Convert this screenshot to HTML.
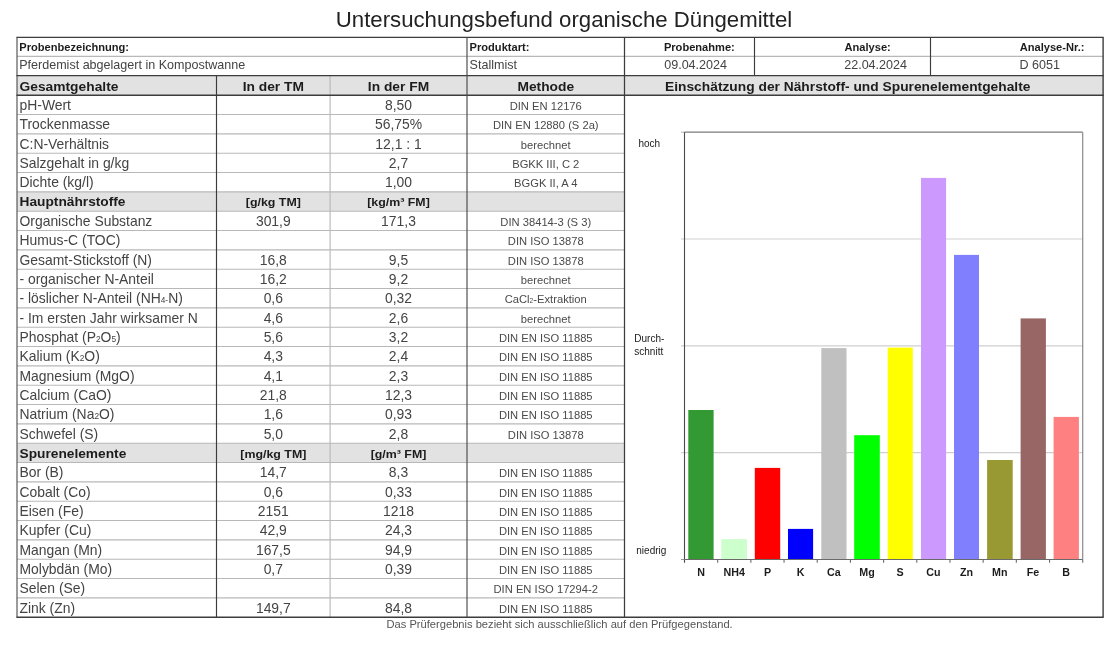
<!DOCTYPE html>
<html><head><meta charset="utf-8"><title>Untersuchungsbefund organische Düngemittel</title>
<style>
html,body{margin:0;padding:0;background:#fff;}
body{width:1117px;height:647px;position:relative;overflow:hidden;font-family:"Liberation Sans",sans-serif;color:#333;}
div{position:absolute;white-space:nowrap;box-sizing:border-box;}
svg{position:absolute;left:0;top:0;font-family:"Liberation Sans",sans-serif;}
text{white-space:pre;}
.t{color:#333;}
.b{font-weight:bold;color:#1c1c1c;}
.c{text-align:center;}
.m{color:#3a3a3a;}
s{text-decoration:none;font-size:68%;}
</style></head><body>
<div id="w" style="left:0;top:0;width:1117px;height:647px;will-change:transform;filter:blur(0.3px)">
<svg width="1117" height="647" viewBox="0 0 1117 647">

<rect x="17.00" y="75.65" width="1086.10" height="19.55" fill="#e2e2e2"/>
<rect x="17.00" y="191.87" width="607.50" height="19.33" fill="#e2e2e2"/>
<rect x="17.00" y="443.20" width="607.50" height="19.33" fill="#e2e2e2"/>
<line x1="17.00" y1="56.30" x2="1103.10" y2="56.30" stroke="#b8b8b8" stroke-width="1.15"/>
<line x1="17.00" y1="114.53" x2="624.50" y2="114.53" stroke="#b8b8b8" stroke-width="1.15"/>
<line x1="17.00" y1="133.87" x2="624.50" y2="133.87" stroke="#b8b8b8" stroke-width="1.15"/>
<line x1="17.00" y1="153.20" x2="624.50" y2="153.20" stroke="#b8b8b8" stroke-width="1.15"/>
<line x1="17.00" y1="172.53" x2="624.50" y2="172.53" stroke="#b8b8b8" stroke-width="1.15"/>
<line x1="17.00" y1="191.87" x2="624.50" y2="191.87" stroke="#b8b8b8" stroke-width="1.15"/>
<line x1="17.00" y1="211.20" x2="624.50" y2="211.20" stroke="#b8b8b8" stroke-width="1.15"/>
<line x1="17.00" y1="230.53" x2="624.50" y2="230.53" stroke="#b8b8b8" stroke-width="1.15"/>
<line x1="17.00" y1="249.87" x2="624.50" y2="249.87" stroke="#b8b8b8" stroke-width="1.15"/>
<line x1="17.00" y1="269.20" x2="624.50" y2="269.20" stroke="#b8b8b8" stroke-width="1.15"/>
<line x1="17.00" y1="288.53" x2="624.50" y2="288.53" stroke="#b8b8b8" stroke-width="1.15"/>
<line x1="17.00" y1="307.87" x2="624.50" y2="307.87" stroke="#b8b8b8" stroke-width="1.15"/>
<line x1="17.00" y1="327.20" x2="624.50" y2="327.20" stroke="#b8b8b8" stroke-width="1.15"/>
<line x1="17.00" y1="346.53" x2="624.50" y2="346.53" stroke="#b8b8b8" stroke-width="1.15"/>
<line x1="17.00" y1="365.87" x2="624.50" y2="365.87" stroke="#b8b8b8" stroke-width="1.15"/>
<line x1="17.00" y1="385.20" x2="624.50" y2="385.20" stroke="#b8b8b8" stroke-width="1.15"/>
<line x1="17.00" y1="404.53" x2="624.50" y2="404.53" stroke="#b8b8b8" stroke-width="1.15"/>
<line x1="17.00" y1="423.87" x2="624.50" y2="423.87" stroke="#b8b8b8" stroke-width="1.15"/>
<line x1="17.00" y1="443.20" x2="624.50" y2="443.20" stroke="#b8b8b8" stroke-width="1.15"/>
<line x1="17.00" y1="462.53" x2="624.50" y2="462.53" stroke="#b8b8b8" stroke-width="1.15"/>
<line x1="17.00" y1="481.87" x2="624.50" y2="481.87" stroke="#b8b8b8" stroke-width="1.15"/>
<line x1="17.00" y1="501.20" x2="624.50" y2="501.20" stroke="#b8b8b8" stroke-width="1.15"/>
<line x1="17.00" y1="520.53" x2="624.50" y2="520.53" stroke="#b8b8b8" stroke-width="1.15"/>
<line x1="17.00" y1="539.87" x2="624.50" y2="539.87" stroke="#b8b8b8" stroke-width="1.15"/>
<line x1="17.00" y1="559.20" x2="624.50" y2="559.20" stroke="#b8b8b8" stroke-width="1.15"/>
<line x1="17.00" y1="578.53" x2="624.50" y2="578.53" stroke="#b8b8b8" stroke-width="1.15"/>
<line x1="17.00" y1="597.87" x2="624.50" y2="597.87" stroke="#b8b8b8" stroke-width="1.15"/>
<line x1="330.10" y1="75.65" x2="330.10" y2="617.20" stroke="#b8b8b8" stroke-width="1.15"/>
<line x1="681.00" y1="238.99" x2="1082.70" y2="238.99" stroke="#cfcfcf" stroke-width="1.1"/>
<line x1="681.00" y1="345.83" x2="1082.70" y2="345.83" stroke="#cfcfcf" stroke-width="1.1"/>
<line x1="681.00" y1="452.66" x2="1082.70" y2="452.66" stroke="#cfcfcf" stroke-width="1.1"/>
<rect x="688.30" y="410.00" width="25.30" height="149.50" fill="#339933"/>
<rect x="721.30" y="539.10" width="25.70" height="20.40" fill="#ccffcc"/>
<rect x="754.80" y="467.90" width="25.40" height="91.60" fill="#ff0000"/>
<rect x="788.00" y="528.90" width="25.10" height="30.60" fill="#0000ff"/>
<rect x="821.30" y="348.10" width="25.20" height="211.40" fill="#c0c0c0"/>
<rect x="854.20" y="435.20" width="25.60" height="124.30" fill="#00ff00"/>
<rect x="887.70" y="347.60" width="25.10" height="211.90" fill="#ffff00"/>
<rect x="921.00" y="177.90" width="25.10" height="381.60" fill="#cc99ff"/>
<rect x="954.00" y="254.90" width="25.00" height="304.60" fill="#8080ff"/>
<rect x="987.10" y="460.00" width="25.60" height="99.50" fill="#999933"/>
<rect x="1020.60" y="318.40" width="25.30" height="241.10" fill="#996666"/>
<rect x="1053.60" y="416.90" width="25.30" height="142.60" fill="#ff8080"/>
<line x1="681.00" y1="132.15" x2="684.50" y2="132.15" stroke="#b0b0b0" stroke-width="1.0"/>
<line x1="684.50" y1="132.15" x2="1082.70" y2="132.15" stroke="#7a7a7a" stroke-width="1.1"/>
<line x1="1082.70" y1="132.15" x2="1082.70" y2="559.50" stroke="#8a8a8a" stroke-width="1.2"/>
<line x1="684.50" y1="132.15" x2="684.50" y2="562.70" stroke="#4a4a4a" stroke-width="1.1"/>
<line x1="681.00" y1="559.50" x2="684.50" y2="559.50" stroke="#999" stroke-width="1.0"/>
<line x1="684.50" y1="559.50" x2="1082.70" y2="559.50" stroke="#6a6a6a" stroke-width="1.05"/>
<line x1="717.68" y1="559.50" x2="717.68" y2="562.70" stroke="#6a6a6a" stroke-width="1.1"/>
<line x1="750.87" y1="559.50" x2="750.87" y2="562.70" stroke="#6a6a6a" stroke-width="1.1"/>
<line x1="784.05" y1="559.50" x2="784.05" y2="562.70" stroke="#6a6a6a" stroke-width="1.1"/>
<line x1="817.23" y1="559.50" x2="817.23" y2="562.70" stroke="#6a6a6a" stroke-width="1.1"/>
<line x1="850.42" y1="559.50" x2="850.42" y2="562.70" stroke="#6a6a6a" stroke-width="1.1"/>
<line x1="883.60" y1="559.50" x2="883.60" y2="562.70" stroke="#6a6a6a" stroke-width="1.1"/>
<line x1="916.78" y1="559.50" x2="916.78" y2="562.70" stroke="#6a6a6a" stroke-width="1.1"/>
<line x1="949.97" y1="559.50" x2="949.97" y2="562.70" stroke="#6a6a6a" stroke-width="1.1"/>
<line x1="983.15" y1="559.50" x2="983.15" y2="562.70" stroke="#6a6a6a" stroke-width="1.1"/>
<line x1="1016.33" y1="559.50" x2="1016.33" y2="562.70" stroke="#6a6a6a" stroke-width="1.1"/>
<line x1="1049.52" y1="559.50" x2="1049.52" y2="562.70" stroke="#6a6a6a" stroke-width="1.1"/>
<line x1="1082.70" y1="559.50" x2="1082.70" y2="562.70" stroke="#6a6a6a" stroke-width="1.1"/>
<line x1="16.40" y1="37.40" x2="1103.70" y2="37.40" stroke="#3c3c3c" stroke-width="1.35"/>
<line x1="16.40" y1="75.65" x2="1103.70" y2="75.65" stroke="#3c3c3c" stroke-width="1.35"/>
<line x1="16.40" y1="95.20" x2="1103.70" y2="95.20" stroke="#3c3c3c" stroke-width="1.35"/>
<line x1="16.40" y1="617.20" x2="1103.70" y2="617.20" stroke="#3c3c3c" stroke-width="1.35"/>
<line x1="17.00" y1="37.40" x2="17.00" y2="617.20" stroke="#4a4a4a" stroke-width="1.1"/>
<line x1="1103.10" y1="37.40" x2="1103.10" y2="617.20" stroke="#3c3c3c" stroke-width="1.4"/>
<line x1="216.50" y1="75.65" x2="216.50" y2="617.20" stroke="#3c3c3c" stroke-width="1.15"/>
<line x1="467.00" y1="37.40" x2="467.00" y2="617.20" stroke="#4a4a4a" stroke-width="1.15"/>
<line x1="624.50" y1="37.40" x2="624.50" y2="617.20" stroke="#3c3c3c" stroke-width="1.25"/>
<line x1="754.50" y1="37.40" x2="754.50" y2="75.65" stroke="#3c3c3c" stroke-width="1.15"/>
<line x1="930.50" y1="37.40" x2="930.50" y2="75.65" stroke="#3c3c3c" stroke-width="1.15"/>
<text x="564.00" y="27.00" font-size="22.2" text-anchor="middle" fill="#222">Untersuchungsbefund organische Düngemittel</text>
<text x="19.30" y="51.00" font-size="11.1" font-weight="bold" fill="#1c1c1c">Probenbezeichnung:</text>
<text x="19.20" y="69.00" font-size="12.55" fill="#444">Pferdemist abgelagert in Kompostwanne</text>
<text x="469.60" y="51.00" font-size="11.1" font-weight="bold" fill="#1c1c1c">Produktart:</text>
<text x="469.60" y="69.00" font-size="12.55" fill="#444">Stallmist</text>
<text x="663.90" y="51.00" font-size="11.1" font-weight="bold" fill="#1c1c1c">Probenahme:</text>
<text x="664.20" y="69.00" font-size="12.55" fill="#444">09.04.2024</text>
<text x="844.50" y="51.00" font-size="11.1" font-weight="bold" fill="#1c1c1c">Analyse:</text>
<text x="844.20" y="69.00" font-size="12.55" fill="#444">22.04.2024</text>
<text x="1019.70" y="51.00" font-size="11.1" font-weight="bold" fill="#1c1c1c">Analyse-Nr.:</text>
<text x="1019.50" y="69.00" font-size="12.55" fill="#444">D 6051</text>
<text transform="translate(19.50,91.00) scale(1.066,1)" font-size="12.95" font-weight="bold" fill="#1c1c1c">Gesamtgehalte</text>
<text transform="translate(273.30,91.00) scale(1.066,1)" font-size="12.95" font-weight="bold" text-anchor="middle" fill="#1c1c1c">In der TM</text>
<text transform="translate(398.50,91.00) scale(1.066,1)" font-size="12.95" font-weight="bold" text-anchor="middle" fill="#1c1c1c">In der FM</text>
<text transform="translate(545.75,91.00) scale(1.066,1)" font-size="12.95" font-weight="bold" text-anchor="middle" fill="#1c1c1c">Methode</text>
<text transform="translate(665.00,91.00) scale(1.095,1)" font-size="12.6" font-weight="bold" fill="#1c1c1c">Einschätzung der Nährstoff- und Spurenelementgehalte</text>
<text x="19.50" y="110.00" font-size="13.9" fill="#444">pH-Wert</text>
<text x="273.30" y="110.00" font-size="13.9" text-anchor="middle" fill="#444"></text>
<text x="398.50" y="110.00" font-size="13.9" text-anchor="middle" fill="#444">8,50</text>
<text x="545.75" y="110.00" font-size="11.2" text-anchor="middle" fill="#4a4a4a">DIN EN 12176</text>
<text x="19.50" y="129.00" font-size="13.9" fill="#444">Trockenmasse</text>
<text x="273.30" y="129.00" font-size="13.9" text-anchor="middle" fill="#444"></text>
<text x="398.50" y="129.00" font-size="13.9" text-anchor="middle" fill="#444">56,75%</text>
<text x="545.75" y="129.00" font-size="11.2" text-anchor="middle" fill="#4a4a4a">DIN EN 12880 (S 2a)</text>
<text x="19.50" y="149.00" font-size="13.9" fill="#444">C:N-Verhältnis</text>
<text x="273.30" y="149.00" font-size="13.9" text-anchor="middle" fill="#444"></text>
<text x="398.50" y="149.00" font-size="13.9" text-anchor="middle" fill="#444">12,1 : 1</text>
<text x="545.75" y="149.00" font-size="11.2" text-anchor="middle" fill="#4a4a4a">berechnet</text>
<text x="19.50" y="168.00" font-size="13.9" fill="#444">Salzgehalt in g/kg</text>
<text x="273.30" y="168.00" font-size="13.9" text-anchor="middle" fill="#444"></text>
<text x="398.50" y="168.00" font-size="13.9" text-anchor="middle" fill="#444">2,7</text>
<text x="545.75" y="168.00" font-size="11.2" text-anchor="middle" fill="#4a4a4a">BGKK III, C 2</text>
<text x="19.50" y="187.00" font-size="13.9" fill="#444">Dichte (kg/l)</text>
<text x="273.30" y="187.00" font-size="13.9" text-anchor="middle" fill="#444"></text>
<text x="398.50" y="187.00" font-size="13.9" text-anchor="middle" fill="#444">1,00</text>
<text x="545.75" y="187.00" font-size="11.2" text-anchor="middle" fill="#4a4a4a">BGGK II, A 4</text>
<text transform="translate(19.50,206.00) scale(1.113,1)" font-size="12.35" font-weight="bold" fill="#1c1c1c">Hauptnährstoffe</text>
<text transform="translate(273.30,206.00) scale(1.06,1)" font-size="11.7" font-weight="bold" text-anchor="middle" fill="#1c1c1c">[g/kg TM]</text>
<text transform="translate(398.50,206.00) scale(1.06,1)" font-size="11.7" font-weight="bold" text-anchor="middle" fill="#1c1c1c">[kg/m³ FM]</text>
<text x="19.50" y="226.00" font-size="13.9" fill="#444">Organische Substanz</text>
<text x="273.30" y="226.00" font-size="13.9" text-anchor="middle" fill="#444">301,9</text>
<text x="398.50" y="226.00" font-size="13.9" text-anchor="middle" fill="#444">171,3</text>
<text x="545.75" y="226.00" font-size="11.2" text-anchor="middle" fill="#4a4a4a">DIN 38414-3 (S 3)</text>
<text x="19.50" y="245.00" font-size="13.9" fill="#444">Humus-C (TOC)</text>
<text x="273.30" y="245.00" font-size="13.9" text-anchor="middle" fill="#444"></text>
<text x="398.50" y="245.00" font-size="13.9" text-anchor="middle" fill="#444"></text>
<text x="545.75" y="245.00" font-size="11.2" text-anchor="middle" fill="#4a4a4a">DIN ISO 13878</text>
<text x="19.50" y="265.00" font-size="13.9" fill="#444">Gesamt-Stickstoff (N)</text>
<text x="273.30" y="265.00" font-size="13.9" text-anchor="middle" fill="#444">16,8</text>
<text x="398.50" y="265.00" font-size="13.9" text-anchor="middle" fill="#444">9,5</text>
<text x="545.75" y="265.00" font-size="11.2" text-anchor="middle" fill="#4a4a4a">DIN ISO 13878</text>
<text x="19.50" y="284.00" font-size="13.9" fill="#444">- organischer N-Anteil</text>
<text x="273.30" y="284.00" font-size="13.9" text-anchor="middle" fill="#444">16,2</text>
<text x="398.50" y="284.00" font-size="13.9" text-anchor="middle" fill="#444">9,2</text>
<text x="545.75" y="284.00" font-size="11.2" text-anchor="middle" fill="#4a4a4a">berechnet</text>
<text x="19.50" y="303.00" font-size="13.9" fill="#444">- löslicher N-Anteil (NH<tspan font-size="8.3">4-</tspan>N)</text>
<text x="273.30" y="303.00" font-size="13.9" text-anchor="middle" fill="#444">0,6</text>
<text x="398.50" y="303.00" font-size="13.9" text-anchor="middle" fill="#444">0,32</text>
<text x="545.75" y="303.00" font-size="11.2" text-anchor="middle" fill="#4a4a4a">CaCl<tspan font-size="6.7">2</tspan>-Extraktion</text>
<text x="19.50" y="323.00" font-size="13.9" fill="#444">- Im ersten Jahr wirksamer N</text>
<text x="273.30" y="323.00" font-size="13.9" text-anchor="middle" fill="#444">4,6</text>
<text x="398.50" y="323.00" font-size="13.9" text-anchor="middle" fill="#444">2,6</text>
<text x="545.75" y="323.00" font-size="11.2" text-anchor="middle" fill="#4a4a4a">berechnet</text>
<text x="19.50" y="342.00" font-size="13.9" fill="#444">Phosphat (P<tspan font-size="8.3">2</tspan>O<tspan font-size="8.3">5</tspan>)</text>
<text x="273.30" y="342.00" font-size="13.9" text-anchor="middle" fill="#444">5,6</text>
<text x="398.50" y="342.00" font-size="13.9" text-anchor="middle" fill="#444">3,2</text>
<text x="545.75" y="342.00" font-size="11.2" text-anchor="middle" fill="#4a4a4a">DIN EN ISO 11885</text>
<text x="19.50" y="361.00" font-size="13.9" fill="#444">Kalium (K<tspan font-size="8.3">2</tspan>O)</text>
<text x="273.30" y="361.00" font-size="13.9" text-anchor="middle" fill="#444">4,3</text>
<text x="398.50" y="361.00" font-size="13.9" text-anchor="middle" fill="#444">2,4</text>
<text x="545.75" y="361.00" font-size="11.2" text-anchor="middle" fill="#4a4a4a">DIN EN ISO 11885</text>
<text x="19.50" y="381.00" font-size="13.9" fill="#444">Magnesium (MgO)</text>
<text x="273.30" y="381.00" font-size="13.9" text-anchor="middle" fill="#444">4,1</text>
<text x="398.50" y="381.00" font-size="13.9" text-anchor="middle" fill="#444">2,3</text>
<text x="545.75" y="381.00" font-size="11.2" text-anchor="middle" fill="#4a4a4a">DIN EN ISO 11885</text>
<text x="19.50" y="400.00" font-size="13.9" fill="#444">Calcium (CaO)</text>
<text x="273.30" y="400.00" font-size="13.9" text-anchor="middle" fill="#444">21,8</text>
<text x="398.50" y="400.00" font-size="13.9" text-anchor="middle" fill="#444">12,3</text>
<text x="545.75" y="400.00" font-size="11.2" text-anchor="middle" fill="#4a4a4a">DIN EN ISO 11885</text>
<text x="19.50" y="419.00" font-size="13.9" fill="#444">Natrium (Na<tspan font-size="8.3">2</tspan>O)</text>
<text x="273.30" y="419.00" font-size="13.9" text-anchor="middle" fill="#444">1,6</text>
<text x="398.50" y="419.00" font-size="13.9" text-anchor="middle" fill="#444">0,93</text>
<text x="545.75" y="419.00" font-size="11.2" text-anchor="middle" fill="#4a4a4a">DIN EN ISO 11885</text>
<text x="19.50" y="439.00" font-size="13.9" fill="#444">Schwefel (S)</text>
<text x="273.30" y="439.00" font-size="13.9" text-anchor="middle" fill="#444">5,0</text>
<text x="398.50" y="439.00" font-size="13.9" text-anchor="middle" fill="#444">2,8</text>
<text x="545.75" y="439.00" font-size="11.2" text-anchor="middle" fill="#4a4a4a">DIN ISO 13878</text>
<text transform="translate(19.50,458.00) scale(1.113,1)" font-size="12.35" font-weight="bold" fill="#1c1c1c">Spurenelemente</text>
<text transform="translate(273.30,458.00) scale(1.06,1)" font-size="11.7" font-weight="bold" text-anchor="middle" fill="#1c1c1c">[mg/kg TM]</text>
<text transform="translate(398.50,458.00) scale(1.06,1)" font-size="11.7" font-weight="bold" text-anchor="middle" fill="#1c1c1c">[g/m³ FM]</text>
<text x="19.50" y="477.00" font-size="13.9" fill="#444">Bor (B)</text>
<text x="273.30" y="477.00" font-size="13.9" text-anchor="middle" fill="#444">14,7</text>
<text x="398.50" y="477.00" font-size="13.9" text-anchor="middle" fill="#444">8,3</text>
<text x="545.75" y="477.00" font-size="11.2" text-anchor="middle" fill="#4a4a4a">DIN EN ISO 11885</text>
<text x="19.50" y="497.00" font-size="13.9" fill="#444">Cobalt (Co)</text>
<text x="273.30" y="497.00" font-size="13.9" text-anchor="middle" fill="#444">0,6</text>
<text x="398.50" y="497.00" font-size="13.9" text-anchor="middle" fill="#444">0,33</text>
<text x="545.75" y="497.00" font-size="11.2" text-anchor="middle" fill="#4a4a4a">DIN EN ISO 11885</text>
<text x="19.50" y="516.00" font-size="13.9" fill="#444">Eisen (Fe)</text>
<text x="273.30" y="516.00" font-size="13.9" text-anchor="middle" fill="#444">2151</text>
<text x="398.50" y="516.00" font-size="13.9" text-anchor="middle" fill="#444">1218</text>
<text x="545.75" y="516.00" font-size="11.2" text-anchor="middle" fill="#4a4a4a">DIN EN ISO 11885</text>
<text x="19.50" y="535.00" font-size="13.9" fill="#444">Kupfer (Cu)</text>
<text x="273.30" y="535.00" font-size="13.9" text-anchor="middle" fill="#444">42,9</text>
<text x="398.50" y="535.00" font-size="13.9" text-anchor="middle" fill="#444">24,3</text>
<text x="545.75" y="535.00" font-size="11.2" text-anchor="middle" fill="#4a4a4a">DIN EN ISO 11885</text>
<text x="19.50" y="555.00" font-size="13.9" fill="#444">Mangan (Mn)</text>
<text x="273.30" y="555.00" font-size="13.9" text-anchor="middle" fill="#444">167,5</text>
<text x="398.50" y="555.00" font-size="13.9" text-anchor="middle" fill="#444">94,9</text>
<text x="545.75" y="555.00" font-size="11.2" text-anchor="middle" fill="#4a4a4a">DIN EN ISO 11885</text>
<text x="19.50" y="574.00" font-size="13.9" fill="#444">Molybdän (Mo)</text>
<text x="273.30" y="574.00" font-size="13.9" text-anchor="middle" fill="#444">0,7</text>
<text x="398.50" y="574.00" font-size="13.9" text-anchor="middle" fill="#444">0,39</text>
<text x="545.75" y="574.00" font-size="11.2" text-anchor="middle" fill="#4a4a4a">DIN EN ISO 11885</text>
<text x="19.50" y="593.00" font-size="13.9" fill="#444">Selen (Se)</text>
<text x="273.30" y="593.00" font-size="13.9" text-anchor="middle" fill="#444"></text>
<text x="398.50" y="593.00" font-size="13.9" text-anchor="middle" fill="#444"></text>
<text x="545.75" y="593.00" font-size="11.2" text-anchor="middle" fill="#4a4a4a">DIN EN ISO 17294-2</text>
<text x="19.50" y="613.00" font-size="13.9" fill="#444">Zink (Zn)</text>
<text x="273.30" y="613.00" font-size="13.9" text-anchor="middle" fill="#444">149,7</text>
<text x="398.50" y="613.00" font-size="13.9" text-anchor="middle" fill="#444">84,8</text>
<text x="545.75" y="613.00" font-size="11.2" text-anchor="middle" fill="#4a4a4a">DIN EN ISO 11885</text>
<text x="701.09" y="576.00" font-size="10.7" font-weight="bold" text-anchor="middle" fill="#1c1c1c">N</text>
<text x="734.27" y="576.00" font-size="10.7" font-weight="bold" text-anchor="middle" fill="#1c1c1c">NH4</text>
<text x="767.46" y="576.00" font-size="10.7" font-weight="bold" text-anchor="middle" fill="#1c1c1c">P</text>
<text x="800.64" y="576.00" font-size="10.7" font-weight="bold" text-anchor="middle" fill="#1c1c1c">K</text>
<text x="833.83" y="576.00" font-size="10.7" font-weight="bold" text-anchor="middle" fill="#1c1c1c">Ca</text>
<text x="867.01" y="576.00" font-size="10.7" font-weight="bold" text-anchor="middle" fill="#1c1c1c">Mg</text>
<text x="900.19" y="576.00" font-size="10.7" font-weight="bold" text-anchor="middle" fill="#1c1c1c">S</text>
<text x="933.38" y="576.00" font-size="10.7" font-weight="bold" text-anchor="middle" fill="#1c1c1c">Cu</text>
<text x="966.56" y="576.00" font-size="10.7" font-weight="bold" text-anchor="middle" fill="#1c1c1c">Zn</text>
<text x="999.74" y="576.00" font-size="10.7" font-weight="bold" text-anchor="middle" fill="#1c1c1c">Mn</text>
<text x="1032.93" y="576.00" font-size="10.7" font-weight="bold" text-anchor="middle" fill="#1c1c1c">Fe</text>
<text x="1066.11" y="576.00" font-size="10.7" font-weight="bold" text-anchor="middle" fill="#1c1c1c">B</text>
<text x="638.50" y="147.00" font-size="10" fill="#1a1a1a">hoch</text>
<text x="634.30" y="342.00" font-size="10" fill="#1a1a1a">Durch-</text>
<text x="634.30" y="354.50" font-size="10" fill="#1a1a1a">schnitt</text>
<text x="636.30" y="554.00" font-size="10" fill="#1a1a1a">niedrig</text>
<text x="386.50" y="628.00" font-size="11.15" fill="#555">Das Prüfergebnis bezieht sich ausschließlich auf den Prüfgegenstand.</text>
</svg>
</div></body></html>
